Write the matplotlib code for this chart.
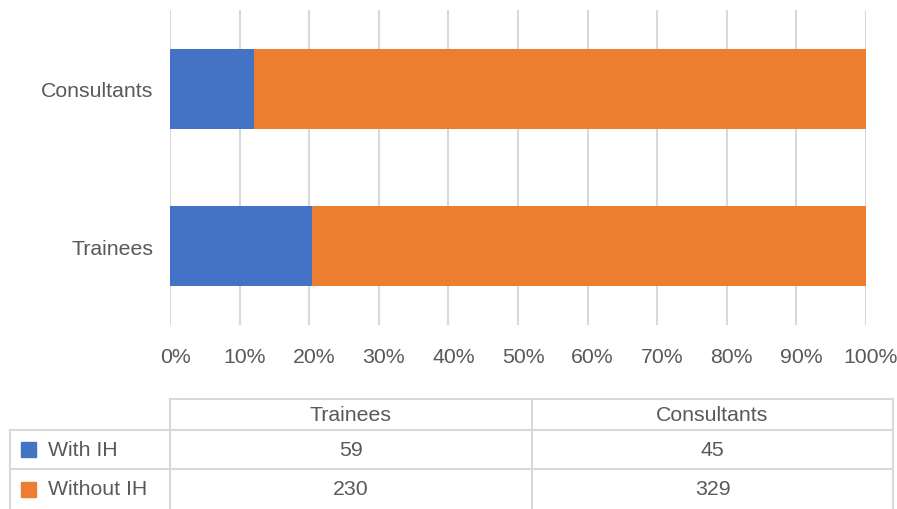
import numpy as np
import matplotlib
matplotlib.use('Agg')
import matplotlib.pyplot as plt
import matplotlib.transforms as mtransforms

plt.rcParams['font.family'] = ['Liberation Sans', 'DejaVu Sans']

groups = ['Trainees', 'Consultants']
series = ['With IH', 'Without IH']
with_ih = [59, 45]
without_ih = [230, 329]
colors = ['#4472C4', '#ED7D31']
text_col = '#595959'
grid_col = '#D9D9D9'
fs = 15.3

W, H = 897, 510
fig = plt.figure(figsize=(W / 100, H / 100), dpi=100)

# chart area
ax = fig.add_axes([170 / W, 1 - 326 / H, (866 - 170) / W, (326 - 11) / H])
tot = np.array(with_ih) + np.array(without_ih)
p_with = np.array(with_ih) / tot * 100
p_without = np.array(without_ih) / tot * 100
y = np.arange(len(groups))
ax.barh(y, p_with, height=0.506, color=colors[0], zorder=3)
ax.barh(y, p_without, left=p_with, height=0.506, color=colors[1], zorder=3)
ax.set_xlim(0, 100)
ax.set_ylim(-0.5, 1.5)
ax.set_xticks(np.arange(0, 101, 10))
ax.set_xticklabels([f'{v}%' for v in range(0, 101, 10)])
ax.set_yticks(y)
ax.set_yticklabels(groups)
ax.grid(axis='x', color=grid_col, linewidth=1.5, zorder=0)
ax.tick_params(length=0, colors=text_col, labelsize=fs)
ax.tick_params(axis='x', pad=16)
ax.tick_params(axis='y', pad=12)
off = mtransforms.ScaledTranslation(5 / 100, 0, fig.dpi_scale_trans)
for lbl in ax.get_xticklabels():
    lbl.set_transform(lbl.get_transform() + off)
for s in ax.spines.values():
    s.set_visible(False)

# data table drawn in pixel coords
tb = fig.add_axes([0, 0, 1, 1], zorder=-1)
tb.set_xlim(0, W)
tb.set_ylim(H, 0)
tb.axis('off')
lw = 1.5
col_x = [10, 170, 532, 893]
row_y = [400, 431, 470, 510]
tb.plot([col_x[1], col_x[3]], [row_y[0], row_y[0]], color=grid_col, lw=lw)
for ry in row_y[1:3]:
    tb.plot([col_x[0], col_x[3]], [ry, ry], color=grid_col, lw=lw)
tb.plot([col_x[0], col_x[0]], [row_y[1], H], color=grid_col, lw=lw)
for cx in col_x[1:]:
    tb.plot([cx, cx], [row_y[0], H], color=grid_col, lw=lw)

for j, g in enumerate(groups):
    cx = (col_x[j + 1] + col_x[j + 2]) / 2
    tb.text(cx, (row_y[0] + row_y[1]) / 2, g, ha='center', va='center',
            fontsize=fs, color=text_col)
vals = [with_ih, without_ih]
for i, name in enumerate(series):
    cy = (row_y[i + 1] + row_y[i + 2]) / 2
    tb.add_patch(plt.Rectangle((21, cy - 7.5), 15, 15, color=colors[i]))
    tb.text(48, cy, name, ha='left', va='center', fontsize=fs, color=text_col)
    for j in range(len(groups)):
        cx = (col_x[j + 1] + col_x[j + 2]) / 2
        tb.text(cx, cy, str(vals[i][j]), ha='center', va='center',
                fontsize=fs, color=text_col)

fig.savefig('out.png', dpi=100)
